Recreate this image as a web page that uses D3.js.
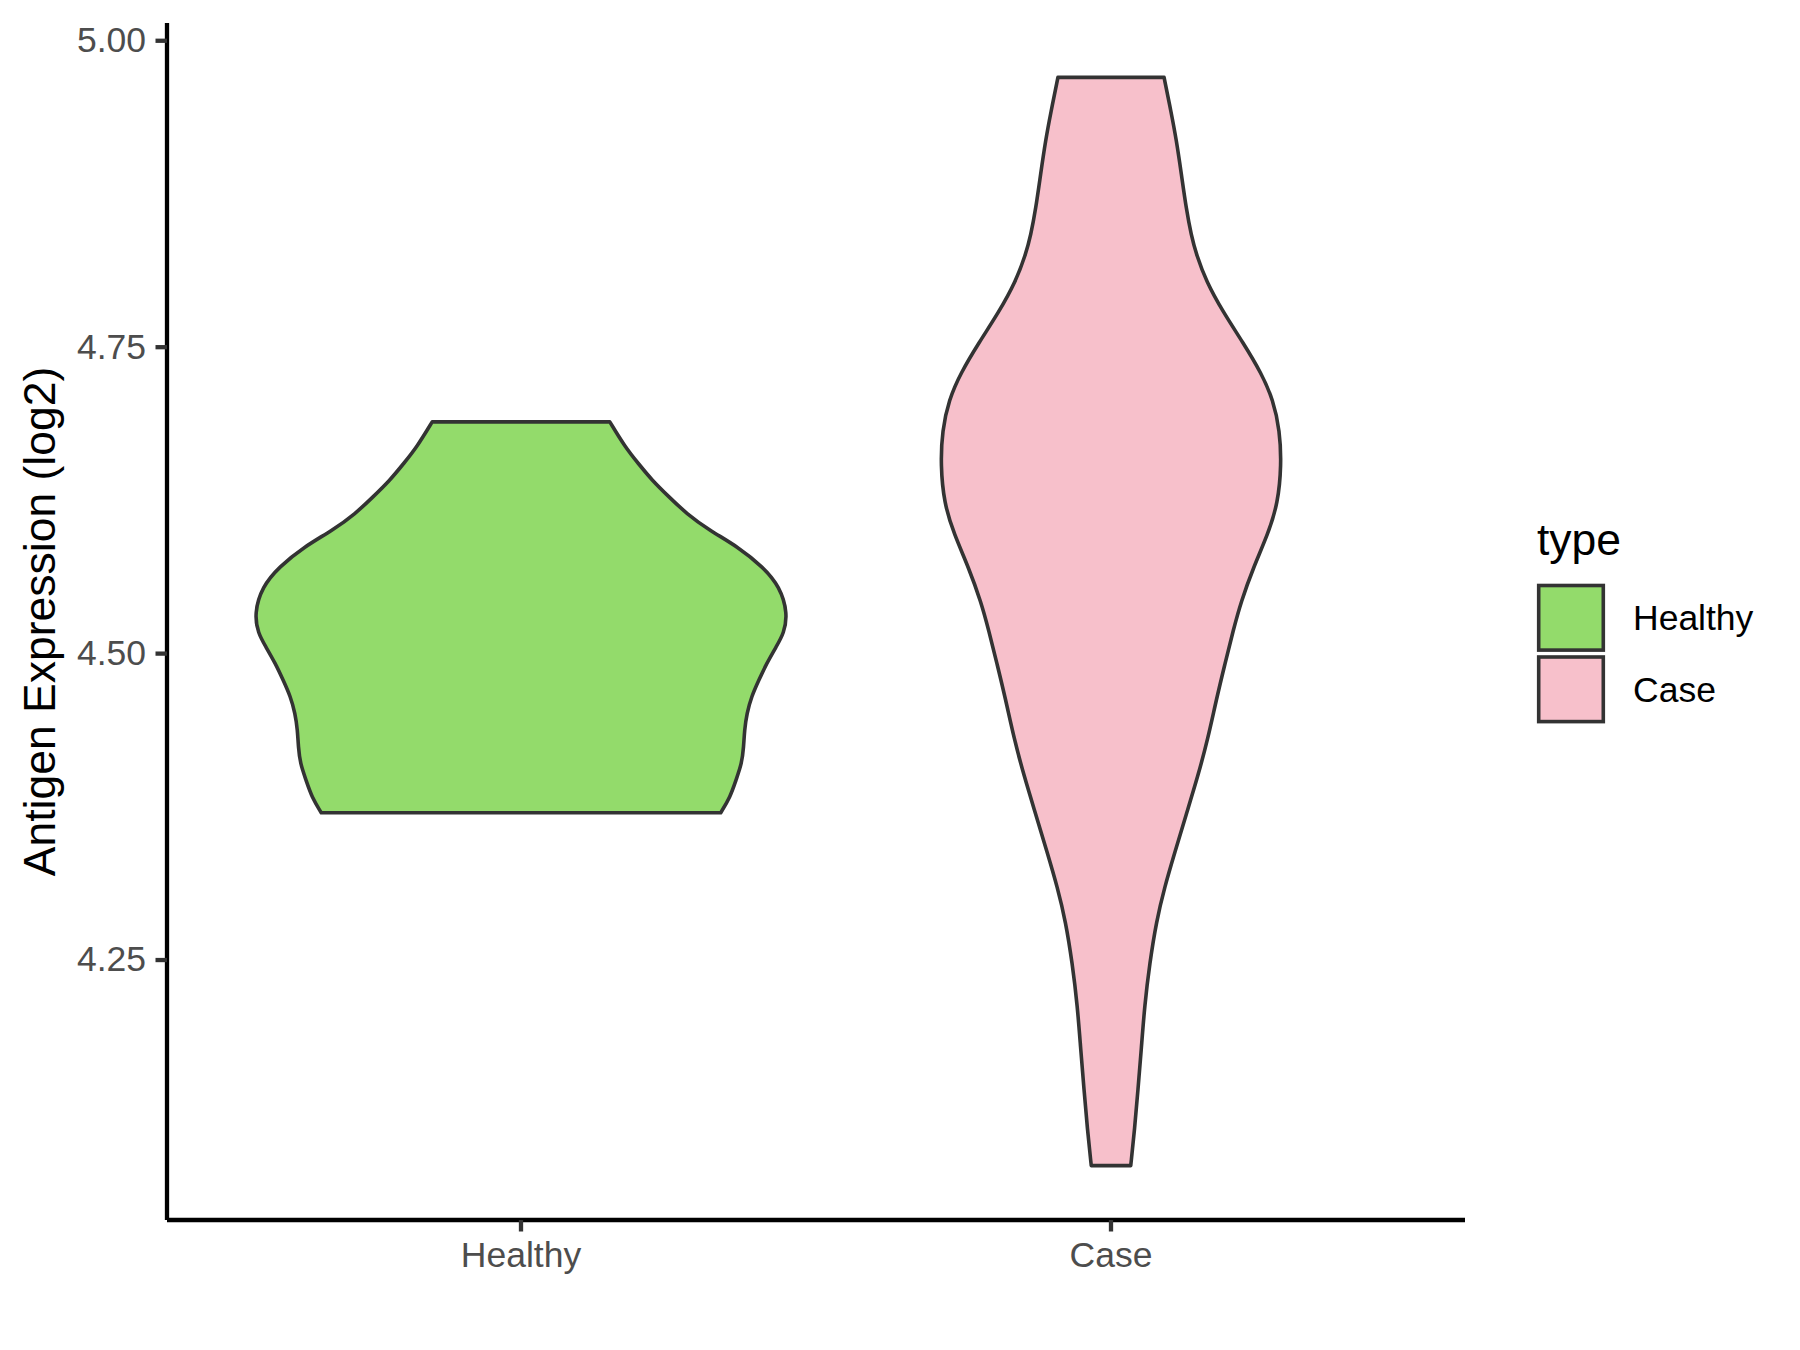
<!DOCTYPE html>
<html><head><meta charset="utf-8">
<script src="https://cdn.jsdelivr.net/npm/d3@7"></script>
<style>body{margin:0;background:#fff}</style>
</head><body><svg id="chart" width="1800" height="1350"></svg>
<script>
const categories = ["Healthy", "Case"];
const fillColors = ["#93DB6B", "#F7C0CB"];
const yTicks = [4.25, 4.50, 4.75, 5.00];
const yTitle = "Antigen Expression (log2)";
const legendTitle = "type";

// violin outlines: expression level and relative density (half-width)
const healthyLevels = [4.6891,4.6687,4.6551,4.6415,4.6279,4.6143,4.6007,4.5871,4.5708,4.5545,4.5328,4.5165,4.5056,4.4920,4.4784,4.4648,4.4512,4.4376,4.4240,4.4104,4.3968,4.3832,4.3702];
const healthyDensity = [0.333,0.390,0.440,0.491,0.555,0.620,0.706,0.814,0.907,0.971,1.000,0.986,0.957,0.921,0.892,0.864,0.847,0.838,0.835,0.828,0.806,0.785,0.749];
const caseLevels = [4.9701,4.9411,4.9192,4.8911,4.8631,4.8412,4.8256,4.8037,4.7788,4.7538,4.7288,4.7070,4.6820,4.6539,4.6227,4.5977,4.5697,4.5426,4.5187,4.4905,4.4625,4.4312,4.4001,4.3688,4.3376,4.3095,4.2814,4.2471,4.2127,4.1784,4.1440,4.1129,4.0823];
const caseDensity = [0.199,0.226,0.245,0.264,0.282,0.301,0.320,0.357,0.420,0.495,0.564,0.608,0.633,0.639,0.626,0.589,0.533,0.488,0.458,0.426,0.395,0.364,0.326,0.282,0.239,0.201,0.170,0.145,0.126,0.114,0.101,0.089,0.074];

const groups = [
  {name: categories[0], fill: fillColors[0], pts: healthyLevels.map((v,i)=>({v, d: healthyDensity[i]}))},
  {name: categories[1], fill: fillColors[1], pts: caseLevels.map((v,i)=>({v, d: caseDensity[i]}))}
];

const FONT = "'Liberation Sans', Arial, Helvetica, sans-serif";
const panel = {left: 167, right: 1465, top: 23, bottom: 1220};

const svg = d3.select("#chart");
svg.append("rect").attr("width",1800).attr("height",1350).attr("fill","#fff");

const allV = healthyLevels.concat(caseLevels);
const vmin = d3.min(allV), vmax = d3.max(allV);
const pad = (vmax - vmin) * 0.05;
const y = d3.scaleLinear().domain([vmin - pad, vmax + pad]).range([panel.bottom, panel.top]);
const x = d3.scalePoint().domain(categories).range([panel.left, panel.right]).padding(0.6);
const w = d3.scaleLinear().domain([0, 1]).range([0, x.step() * 0.452]);

// violins
groups.forEach(g => {
  const cx = x(g.name);
  const area = d3.area()
    .y(p => y(p.v))
    .x0(p => cx - w(p.d))
    .x1(p => cx + w(p.d))
    .curve(d3.curveBasis);
  svg.append("path")
    .attr("d", area(g.pts))
    .attr("fill", g.fill)
    .attr("stroke", "#333333")
    .attr("stroke-width", 3.6)
    .attr("stroke-linejoin", "round");
});

// axes
const yAxis = d3.axisLeft(y).tickValues(yTicks).tickFormat(d3.format(".2f"))
  .tickSize(11.5).tickSizeOuter(0).tickPadding(9.5).offset(0);
const gy = svg.append("g").attr("transform", `translate(${panel.left},0)`).call(yAxis);
const xAxis = d3.axisBottom(x).tickSize(11.5).tickSizeOuter(0).tickPadding(10.5).offset(0);
const gx = svg.append("g").attr("transform", `translate(0,${panel.bottom})`).call(xAxis);

[gy, gx].forEach(g => {
  g.select(".domain").attr("stroke", "#000").attr("stroke-width", 4.3).attr("stroke-linecap","butt");
  g.selectAll(".tick line").attr("stroke", "#333333").attr("stroke-width", 4.3);
  g.selectAll(".tick text").attr("fill", "#4D4D4D").style("font-family", FONT).style("font-size", "35.5px");
});

// y title
svg.append("text")
  .attr("transform", `translate(55,${(panel.top + panel.bottom) / 2}) rotate(-90)`)
  .attr("text-anchor", "middle")
  .style("font-family", FONT).style("font-size", "44.5px").attr("fill", "#000")
  .text(yTitle);

// legend
const leg = svg.append("g");
leg.append("text").attr("x", 1537).attr("y", 555)
  .style("font-family", FONT).style("font-size", "44.5px").attr("fill", "#000")
  .text(legendTitle);
groups.forEach((g, i) => {
  const top = 585.5 + i * 71.5;
  leg.append("rect").attr("x", 1538.7).attr("y", top).attr("width", 64.6).attr("height", 64.6)
    .attr("fill", g.fill).attr("stroke", "#333333").attr("stroke-width", 3.6);
  leg.append("text").attr("x", 1633).attr("y", top + 32.3).attr("dy", "0.35em")
    .style("font-family", FONT).style("font-size", "35.5px").attr("fill", "#000")
    .text(g.name);
});
</script>
</body></html>
